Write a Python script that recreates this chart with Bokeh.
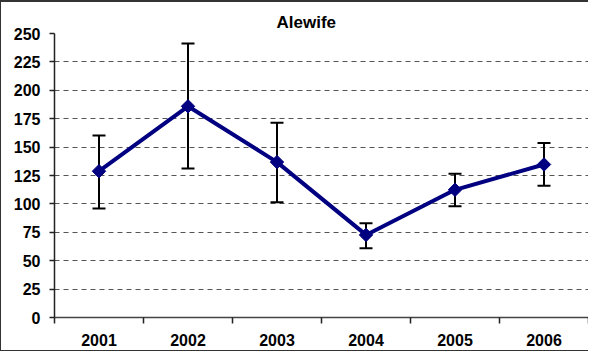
import math
from bokeh.plotting import figure
from bokeh.models import ColumnDataSource, FixedTicker, Whisker, TeeHead, Title, Range1d
from bokeh.embed import file_html
from bokeh.resources import INLINE

years = ["2001", "2002", "2003", "2004", "2005", "2006"]
means = [128.8, 185.9, 136.8, 72.7, 112.4, 134.7]
upper = [160.3, 241.2, 171.5, 82.9, 126.5, 153.5]
lower = [95.9, 131.2, 101.5, 60.9, 97.9, 115.9]
y_ticks = [0, 25, 50, 75, 100, 125, 150, 175, 200, 225, 250]

xs = [i + 0.5 for i in range(len(years))]
src = ColumnDataSource(dict(x=xs, y=means, upper=upper, lower=lower))

p = figure(width=588, height=351, output_backend="svg", toolbar_location=None,
           x_range=Range1d(0, len(years)), y_range=Range1d(0, 250),
           min_border_left=53, min_border_right=1, min_border_top=31, min_border_bottom=36)
p.outline_line_color = None
p.background_fill_color = "white"
p.border_fill_color = "white"
p.styles = {"border-top": "2px solid #333", "border-left": "1px solid #333",
            "border-bottom": "1px solid #333"}

# grid
p.xgrid.grid_line_color = None
p.ygrid.ticker = FixedTicker(ticks=y_ticks[1:])
p.ygrid.grid_line_color = "#555555"
p.ygrid.grid_line_dash = "5 4"
p.ygrid.grid_line_width = 1

# y axis
p.yaxis.ticker = FixedTicker(ticks=y_ticks)
p.yaxis.axis_line_color = "#222222"
p.yaxis.axis_line_width = 1.5
p.yaxis.major_tick_line_color = "#222222"
p.yaxis.major_tick_line_width = 1.5
p.yaxis.major_tick_out = 5
p.yaxis.major_tick_in = 0
p.yaxis.minor_tick_line_color = None
p.yaxis.major_label_standoff = 9
p.yaxis.major_label_text_font = "Liberation Sans"
p.yaxis.major_label_text_font_style = "bold"
p.yaxis.major_label_text_font_size = "16px"
p.yaxis.major_label_text_color = "black"

# x axis: labels at category centres, ticks at category boundaries
p.xaxis.ticker = FixedTicker(ticks=xs, minor_ticks=list(range(len(years) + 1)))
p.xaxis.major_label_overrides = {x: y for x, y in zip(xs, years)}
p.xaxis.major_tick_line_color = None
p.xaxis.minor_tick_line_color = "#222222"
p.xaxis.minor_tick_line_width = 1.5
p.xaxis.minor_tick_out = 6
p.xaxis.minor_tick_in = 0
p.xaxis.axis_line_color = "#444444"
p.xaxis.axis_line_width = 1.5
p.xaxis.major_label_standoff = 10
p.xaxis.major_label_text_font = "Liberation Sans"
p.xaxis.major_label_text_font_style = "bold"
p.xaxis.major_label_text_font_size = "16px"
p.xaxis.major_label_text_color = "black"

# error bars
w = Whisker(source=src, base="x", upper="upper", lower="lower",
            line_color="black", line_width=2,
            upper_head=TeeHead(size=13, line_color="black", line_width=2),
            lower_head=TeeHead(size=13, line_color="black", line_width=2))
p.add_layout(w)

# series
p.line("x", "y", source=src, line_color="#000080", line_width=4)
p.scatter("x", "y", source=src, marker="square", angle=math.pi / 4, size=9.5,
          fill_color="#000080", line_color="#000080", line_width=1)

p.add_layout(Title(text="Alewife", align="left", offset=222, standoff=4,
                   text_font="Liberation Sans", text_font_style="bold",
                   text_font_size="17px", text_color="black"), "above")

open("out.html", "w").write(file_html(p, INLINE))
